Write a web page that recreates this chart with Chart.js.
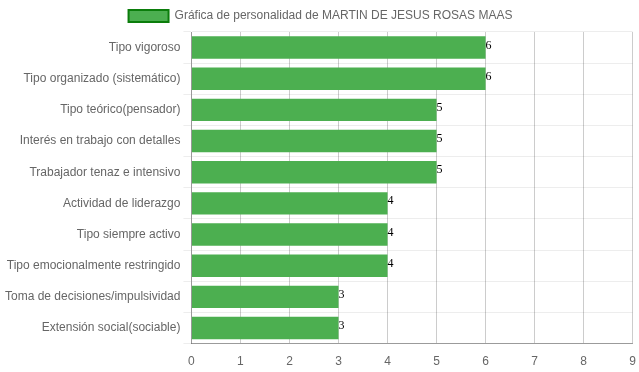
<!DOCTYPE html>
<html>
<head>
<meta charset="utf-8">
<script src="https://cdn.jsdelivr.net/npm/chart.js@4/dist/chart.umd.min.js"></script>
<style>
  html, body { margin: 0; padding: 0; background: #fff; }
  #wrap { width: 639px; height: 372px; }
</style>
</head>
<body>
<div id="wrap"><canvas id="chart" width="639" height="372"></canvas></div>
<script>
const rasgos = [
  'Tipo vigoroso',
  'Tipo organizado (sistemático)',
  'Tipo teórico(pensador)',
  'Interés en trabajo con detalles',
  'Trabajador tenaz e intensivo',
  'Actividad de liderazgo',
  'Tipo siempre activo',
  'Tipo emocionalmente restringido',
  'Toma de decisiones/impulsividad',
  'Extensión social(sociable)'
];
const puntajes = [6, 6, 5, 5, 5, 4, 4, 4, 3, 3];
const serieNombre = 'Gráfica de personalidad de MARTIN DE JESUS ROSAS MAAS';

// writes the value at the end of each bar
const valueLabels = {
  id: 'valueLabels',
  afterDatasetsDraw(chart) {
    const ctx = chart.ctx;
    ctx.save();
    ctx.font = '12px "Liberation Serif", "DejaVu Serif", serif';
    ctx.fillStyle = '#000';
    ctx.textAlign = 'left';
    ctx.textBaseline = 'alphabetic';
    const meta = chart.getDatasetMeta(0);
    meta.data.forEach((bar, i) => {
      ctx.fillText(chart.data.datasets[0].data[i], bar.x, bar.y + 1);
    });
    ctx.restore();
  }
};

Chart.defaults.font.family = '"Liberation Sans", Arial, sans-serif';
Chart.defaults.font.size = 12;
Chart.defaults.color = '#666';

new Chart(document.getElementById('chart'), {
  type: 'bar',
  data: {
    labels: rasgos,
    datasets: [{
      label: serieNombre,
      data: puntajes,
      backgroundColor: '#4CAF50',
      borderColor: '#4CAF50',
      borderWidth: 0,
      categoryPercentage: 0.8,
      barPercentage: 0.9
    }]
  },
  options: {
    indexAxis: 'y',
    responsive: false,
    animation: false,
    layout: { padding: { left: 2 } },
    plugins: {
      legend: {
        labels: {
          boxWidth: 40,
          generateLabels(chart) {
            return chart.data.datasets.map((ds, i) => ({
              text: ds.label,
              fillStyle: '#4CAF50',
              strokeStyle: '#0b7d0b',
              lineWidth: 2,
              fontColor: '#666',
              datasetIndex: i
            }));
          }
        }
      },
      tooltip: { enabled: false }
    },
    scales: {
      x: {
        min: 0,
        max: 9,
        ticks: { stepSize: 1 },
        grid: { color: 'rgba(0,0,0,0.2)', tickColor: 'transparent' },
        border: { color: 'rgba(0,0,0,0.35)' }
      },
      y: {
        grid: { color: 'rgba(0,0,0,0.07)' },
        border: { color: 'rgba(0,0,0,0.25)' }
      }
    }
  },
  plugins: [valueLabels]
});
</script>
</body>
</html>
